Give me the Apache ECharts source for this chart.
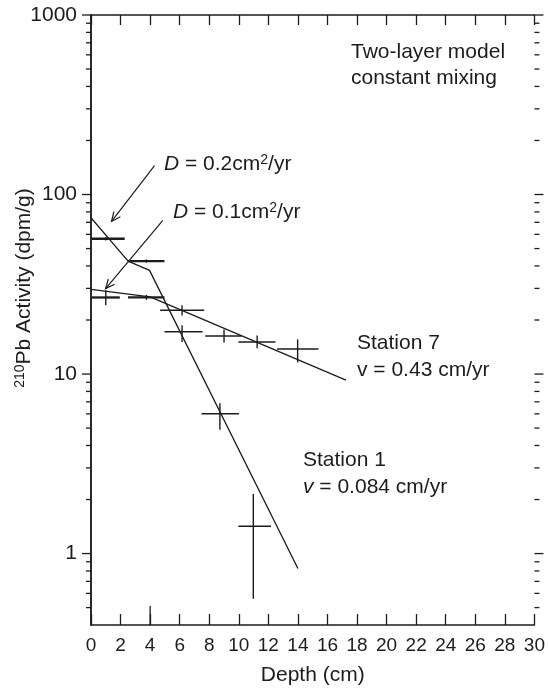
<!DOCTYPE html>
<html>
<head>
<meta charset="utf-8">
<script src="https://cdn.jsdelivr.net/npm/echarts@6/dist/echarts.min.js"></script>
<style>
  html, body { margin: 0; padding: 0; background: #fff; }
  #chart { width: 548px; height: 691px; }
</style>
</head>
<body>
<div id="chart"></div>
<script>
// Axis ranges and ticks
const depthTicks = [0, 2, 4, 6, 8, 10, 12, 14, 16, 18, 20, 22, 24, 26, 28, 30];
const activityDecades = [1, 10, 100, 1000];
const activityMinorTicks = [0.5, 0.6, 0.7, 0.8, 0.9,
  2, 3, 4, 5, 6, 7, 8, 9,
  20, 30, 40, 50, 60, 70, 80, 90,
  200, 300, 400, 500, 600, 700, 800, 900];
const activityMin = 0.4;
const activityMax = 1000;

// Station 1 measurements (depth in cm, activity in dpm/g)
const st1Depth    = [1.0, 3.74, 6.16, 8.72, 10.98];
const st1Activity = [56.7, 42.6, 17.2, 6.0, 1.42];
const st1DepthLo  = [0, 2.49, 4.97, 7.48, 9.97];
const st1DepthHi  = [2.28, 4.97, 7.55, 10.01, 12.18];
const st1ActLo    = [55.5, 41.8, 15.1, 4.89, 0.56];
const st1ActHi    = [58.0, 43.4, 18.7, 6.88, 2.15];

// Station 7 measurements
const st7Depth    = [1.0, 3.75, 6.16, 9.0, 11.24, 13.98];
const st7Activity = [26.7, 26.7, 22.7, 16.3, 15.1, 13.8];
const st7DepthLo  = [0, 2.5, 4.68, 7.73, 9.97, 12.59];
const st7DepthHi  = [1.95, 4.97, 7.66, 10.19, 12.48, 15.39];
const st7ActLo    = [24.2, 25.9, 21.2, 15.0, 13.9, 11.6];
const st7ActHi    = [29.3, 27.6, 24.2, 17.7, 16.4, 15.6];

// Two-layer constant-mixing model profiles
const st1ModelDepth    = [0, 2.51, 3.96, 14.0];
const st1ModelActivity = [74.2, 42.6, 37.8, 0.825];
const st7ModelDepth    = [0, 4.0, 17.25];
const st7ModelActivity = [29.6, 26.9, 9.26];

// Mixed-layer base marker on the depth axis
const mixBaseDepth = [4];
const mixBaseActivity = [0.51];

// Diffusion-coefficient callout arrows
const arrowFromDepth    = [4.30, 4.86];
const arrowFromActivity = [145, 71.7];
const arrowToDepth      = [1.39, 0.99];
const arrowToActivity   = [70.8, 29.9];

const INK = '#1c1c1c';
const FONT = '"Liberation Sans", Arial, Helvetica, sans-serif';

function zip(a, b) { return a.map((v, i) => [v, b[i]]); }

function crossRows(d, a, dlo, dhi, alo, ahi) {
  return d.map((v, i) => [v, a[i], dlo[i], dhi[i], alo[i], ahi[i]]);
}

// Error-bar crosses
function renderCross(params, api) {
  const xc = api.value(0), y = api.value(1);
  const h1 = api.coord([api.value(2), y]);
  const h2 = api.coord([api.value(3), y]);
  const v1 = api.coord([xc, api.value(4)]);
  const v2 = api.coord([xc, api.value(5)]);
  const hw = params.dataIndex < 2 ? 2.3 : 1.5;
  return {
    type: 'group',
    children: [
      { type: 'line', shape: { x1: h1[0], y1: h1[1], x2: h2[0], y2: h2[1] },
        style: { stroke: INK, lineWidth: hw } },
      { type: 'line', shape: { x1: v1[0], y1: v1[1], x2: v2[0], y2: v2[1] },
        style: { stroke: INK, lineWidth: 1.4 } }
    ]
  };
}

// Log-axis ticks on both vertical frame sides (outward)
function renderYTicks(params, api) {
  const v = api.value(1);
  const major = api.value(2) === 1;
  const len = major ? 9 : 5;
  const l = api.coord([0, v]);
  const r = api.coord([30, v]);
  return {
    type: 'group',
    children: [
      { type: 'line', shape: { x1: l[0] - len, y1: l[1], x2: l[0], y2: l[1] },
        style: { stroke: INK, lineWidth: 1.3 } },
      { type: 'line', shape: { x1: r[0], y1: r[1], x2: r[0] + len, y2: r[1] },
        style: { stroke: INK, lineWidth: 1.3 } }
    ]
  };
}

// Open-headed arrows
function renderArrow(params, api) {
  const p1 = api.coord([api.value(0), api.value(1)]);
  const p2 = api.coord([api.value(2), api.value(3)]);
  const ang = Math.atan2(p2[1] - p1[1], p2[0] - p1[0]);
  const hl = 10, spread = 0.42;
  const a1 = [p2[0] - hl * Math.cos(ang - spread), p2[1] - hl * Math.sin(ang - spread)];
  const a2 = [p2[0] - hl * Math.cos(ang + spread), p2[1] - hl * Math.sin(ang + spread)];
  return {
    type: 'group',
    children: [
      { type: 'line', shape: { x1: p1[0], y1: p1[1], x2: p2[0], y2: p2[1] },
        style: { stroke: INK, lineWidth: 1.2 } },
      { type: 'polyline', shape: { points: [a1, p2, a2] },
        style: { stroke: INK, lineWidth: 1.2, fill: null } }
    ]
  };
}

// Vertical marker segment from the axis floor
function renderMark(params, api) {
  const x = api.value(0);
  const p1 = api.coord([x, activityMin]);
  const p2 = api.coord([x, api.value(1)]);
  return { type: 'line', shape: { x1: p1[0], y1: p1[1], x2: p2[0], y2: p2[1] },
    style: { stroke: INK, lineWidth: 1.3 } };
}

const yTickRows = activityDecades.map(v => [0, v, 1])
  .concat(activityMinorTicks.map(v => [0, v, 0]));

const arrowRows = arrowFromDepth.map((d, i) =>
  [d, arrowFromActivity[i], arrowToDepth[i], arrowToActivity[i]]);

const textBase = { fontFamily: FONT, fontSize: 21, fill: INK, verticalAlign: 'middle', align: 'left' };
const richBase = {
  i: { fontFamily: FONT, fontSize: 21, fontStyle: 'italic', fill: INK },
  sup: { fontFamily: FONT, fontSize: 14, fill: INK, verticalAlign: 'top' }
};

function label(x, y, text) {
  return { type: 'text', x: x, y: y, z: 10,
    style: Object.assign({}, textBase, { text: text, rich: richBase }) };
}

const chart = echarts.init(document.getElementById('chart'), null, { renderer: 'canvas' });

chart.setOption({
  animation: false,
  backgroundColor: '#fff',
  grid: { left: 91, right: 11, top: 15, bottom: 63 },
  xAxis: [
    {
      type: 'value', position: 'bottom', min: depthTicks[0], max: depthTicks[depthTicks.length - 1], interval: 2,
      name: 'Depth (cm)', nameLocation: 'middle', nameGap: 40,
      nameTextStyle: { fontFamily: FONT, fontSize: 21, color: INK },
      axisLine: { lineStyle: { color: INK, width: 1.5 } },
      axisTick: { inside: true, length: 11, lineStyle: { color: INK, width: 1.3 } },
      axisLabel: { fontFamily: FONT, fontSize: 19, color: INK, margin: 11 },
      splitLine: { show: false }
    },
    {
      type: 'value', position: 'top', min: depthTicks[0], max: depthTicks[depthTicks.length - 1], interval: 2,
      axisLine: { lineStyle: { color: INK, width: 1.5 } },
      axisTick: { inside: true, length: 10, lineStyle: { color: INK, width: 1.3 } },
      axisLabel: { show: false },
      splitLine: { show: false }
    }
  ],
  yAxis: [
    {
      type: 'log', logBase: 10, position: 'left', min: activityMin, max: activityMax,
      axisLine: { lineStyle: { color: INK, width: 1.5 } },
      axisTick: { show: false },
      axisLabel: {
        fontFamily: FONT, fontSize: 21, color: INK, margin: 14,
        formatter: v => activityDecades.some(d => Math.abs(d - v) / d < 1e-6) ? String(Math.round(v)) : ''
      },
      splitLine: { show: false }
    },
    {
      type: 'log', logBase: 10, position: 'right', min: activityMin, max: activityMax,
      axisLine: { lineStyle: { color: INK, width: 1.5 } },
      axisTick: { show: false },
      axisLabel: { show: false },
      splitLine: { show: false }
    }
  ],
  series: [
    {
      name: 'Station 1 model', type: 'line', xAxisIndex: 0, yAxisIndex: 0,
      data: zip(st1ModelDepth, st1ModelActivity), symbol: 'none',
      lineStyle: { color: INK, width: 1.3 }
    },
    {
      name: 'Station 7 model', type: 'line', xAxisIndex: 0, yAxisIndex: 0,
      data: zip(st7ModelDepth, st7ModelActivity), symbol: 'none',
      lineStyle: { color: INK, width: 1.3 }
    },
    {
      name: 'Station 1', type: 'custom', xAxisIndex: 0, yAxisIndex: 0,
      renderItem: renderCross, encode: { x: [0, 2, 3], y: [1, 4, 5] },
      data: crossRows(st1Depth, st1Activity, st1DepthLo, st1DepthHi, st1ActLo, st1ActHi)
    },
    {
      name: 'Station 7', type: 'custom', xAxisIndex: 0, yAxisIndex: 0,
      renderItem: renderCross, encode: { x: [0, 2, 3], y: [1, 4, 5] },
      data: crossRows(st7Depth, st7Activity, st7DepthLo, st7DepthHi, st7ActLo, st7ActHi)
    },
    {
      name: 'y ticks', type: 'custom', xAxisIndex: 0, yAxisIndex: 0, clip: false, silent: true,
      renderItem: renderYTicks, encode: { x: 0, y: 1 }, data: yTickRows
    },
    {
      name: 'arrows', type: 'custom', xAxisIndex: 0, yAxisIndex: 0, silent: true,
      renderItem: renderArrow, encode: { x: [0, 2], y: [1, 3] }, data: arrowRows
    },
    {
      name: 'mix base', type: 'custom', xAxisIndex: 0, yAxisIndex: 0, silent: true,
      renderItem: renderMark, encode: { x: 0, y: 1 }, data: zip(mixBaseDepth, mixBaseActivity)
    }
  ],
  graphic: [
    label(351, 52, 'Two-layer model'),
    label(351, 78, 'constant mixing'),
    label(164, 164, '{i|D} = 0.2cm{sup|2}/yr'),
    label(173, 212, '{i|D} = 0.1cm{sup|2}/yr'),
    label(357, 343, 'Station 7'),
    label(357, 370, 'v = 0.43 cm/yr'),
    label(303, 460, 'Station 1'),
    label(303, 487, '{i|v} = 0.084 cm/yr'),
    {
      type: 'text', x: 24, y: 288, rotation: Math.PI / 2, z: 10,
      style: Object.assign({}, textBase, { align: 'center', text: '{sup|210}Pb Activity (dpm/g)', rich: richBase })
    }
  ]
});
</script>
</body>
</html>
